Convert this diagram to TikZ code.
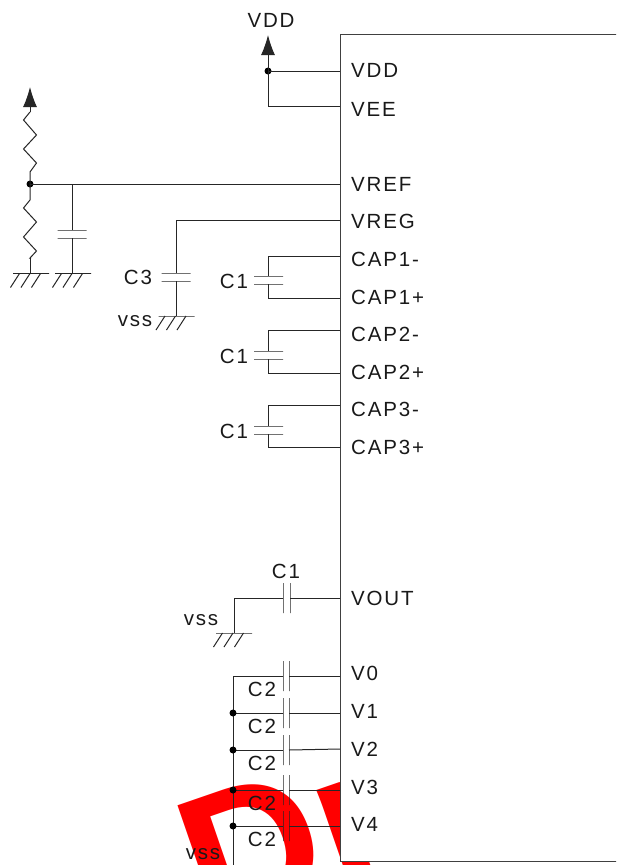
\documentclass[tikz,border=0pt]{standalone}
\usepackage{fontspec}
\setmainfont{Liberation Sans}
\newfontfamily\pinfont[LetterSpace=9]{Liberation Sans}
\usetikzlibrary{arrows.meta}

\begin{document}
\begin{tikzpicture}[x=1pt,y=-1pt]
 \tikzset{
wire/.style = {draw=black!85, line width=1pt},
pinlabel/.style = {anchor=west, inner sep=0pt, font=\pinfont\fontsize{20.5}{24}\selectfont, text=black!90},
partlabel/.style = {inner sep=0pt, font=\pinfont\fontsize{20.5}{24}\selectfont, text=black!90},
chip/.style = {rectangle, draw=black!75, fill=white, line width=1pt, anchor=north west, minimum width=300pt, minimum height=827pt},
hplate/.style = {draw=black!85, line width=1pt, inner sep=0pt, minimum width=29pt, minimum height=0pt},
vplate/.style = {draw=black!85, line width=1pt, inner sep=0pt, minimum width=0pt, minimum height=30pt},
gnd/.style = {draw=black!85, line width=1pt, inner sep=0pt, minimum width=36pt, minimum height=0pt},
dot/.style = {circle, fill=black, inner sep=0pt, minimum size=7pt},
power/.style = {wire, -{Latex[length=20pt,width=14pt]}}}

    \useasboundingbox (0,0) rectangle (616,865);
    \clip (0,0) rectangle (616,865);
    \fill[white] (0,0) rectangle (616,865);

    \node [anchor=base west, inner sep=0pt, rotate=19, text=red, font=\bfseries\fontsize{190}{190}\selectfont] (stamp) at (208,934) {Dr};

    \node [chip] (IC) at (340,34) {};

    % pins
    \node [pinlabel] (VDD) at (351,70) {VDD};
    \node [pinlabel] (VEE) at (351,109) {VEE};
    \node [pinlabel] (VREF) at (351,184) {VREF};
    \node [pinlabel] (VREG) at (351,221) {VREG};
    \node [pinlabel] (CAP1m) at (351,259) {CAP1-};
    \node [pinlabel] (CAP1p) at (351,297) {CAP1+};
    \node [pinlabel] (CAP2m) at (351,334) {CAP2-};
    \node [pinlabel] (CAP2p) at (351,372) {CAP2+};
    \node [pinlabel] (CAP3m) at (351,409) {CAP3-};
    \node [pinlabel] (CAP3p) at (351,447) {CAP3+};
    \node [pinlabel] (VOUT) at (351,598) {VOUT};
    \node [pinlabel] (V0) at (351,673) {V0};
    \node [pinlabel] (V1) at (351,711) {V1};
    \node [pinlabel] (V2) at (351,749) {V2};
    \node [pinlabel] (V3) at (351,787) {V3};
    \node [pinlabel] (V4) at (351,824) {V4};

    \coordinate (pVDD) at (340,71);
    \coordinate (pVEE) at (340,106);
    \coordinate (pVREF) at (340,184);
    \coordinate (pVREG) at (340,220);
    \coordinate (pCAP1m) at (340,256);
    \coordinate (pCAP1p) at (340,298);
    \coordinate (pCAP2m) at (340,330);
    \coordinate (pCAP2p) at (340,373);
    \coordinate (pCAP3m) at (340,405);
    \coordinate (pCAP3p) at (340,447);
    \coordinate (pVOUT) at (340,598);
    \coordinate (pV0) at (340,676);
    \coordinate (pV1) at (340,713);
    \coordinate (pV2) at (340,749);
    \coordinate (pV3) at (340,790);
    \coordinate (pV4) at (340,826);

    % supply
    \node [dot] (N1) at (268,71) {};
    \coordinate (VDDtip) at (268,35);
    \node [partlabel] (VDDtop) at (271,20) {VDD};
    \draw [power] (N1.center) -- (VDDtip);
    \draw [wire] (pVDD) -- (N1.center) -- (pVEE -| N1.center) -- (pVEE);

    % divider
    \node [dot] (N2) at (30,184) {};
    \coordinate (Rtip) at (30,87);
    \coordinate (R1top) at (30,112);
    \coordinate (R2bot) at (30,258);
    \node [gnd] (G1) at (31,273.5) {};
    \node [gnd] (G2) at (73,273.5) {};
    \node [hplate] (Cfa) at (72,230) {};
    \node [hplate] (Cfb) at (72,238) {};
    \draw [power] (R1top) -- (Rtip);
    \draw [wire] (R1top) -- ++(-6.5,8) -- ++(13,15) -- ++(-13,14) -- ++(13,14) -- ++(-6.5,9) -- (N2.center);
    \draw [wire] (N2.center) -- ++(0,16) -- ++(-6.5,8) -- ++(13,14) -- ++(-13,15) -- ++(13,14) -- (R2bot) -- (R2bot -| G1.center);
    \draw [wire] (R2bot) -- (G1.center -| R2bot);
    \draw [wire] (N2.center) -- (pVREF);
    \draw [wire] (Cfa.center |- pVREF) -- (Cfa.center);
    \draw [wire] (Cfb.center) -- (Cfb.center |- G2.center);

    % regulator cap
    \node [hplate] (C3a) at (176,273) {};
    \node [hplate] (C3b) at (176,281) {};
    \node [gnd] (G3) at (176.5,316) {};
    \node [partlabel] (C3) at (138,277) {C3};
    \node [partlabel] (vss1) at (135,321) {vss};
    \draw [wire] (pVREG) -| (C3a.center);
    \draw [wire] (C3b.center) -- (C3b.center |- G3.center);

    % flying caps
    \foreach \n/\ya in {1/276,2/351,3/426}{
      \node [hplate] (C\n a) at (268.5,\ya) {};
      \node [hplate] (C\n b) at (268.5,\ya+8) {};
      \node [partlabel] (L\n) at (234,\ya+5) {C1};
      \draw [wire] (pCAP\n m) -| (C\n a.center);
      \draw [wire] (pCAP\n p) -| (C\n b.center);
    }

    % output cap
    \node [vplate] (COa) at (283,598) {};
    \node [vplate] (COb) at (290,598) {};
    \node [gnd] (G4) at (234,633) {};
    \node [partlabel] (LO) at (286,571) {C1};
    \node [partlabel] (vss2) at (201,620) {vss};
    \draw [wire] (pVOUT) -- (COb.center);
    \draw [wire] (COa.center) -| (G4.center);

    \foreach \g in {G1,G2,G3,G4}
      \foreach \i in {7,17.5,28}
        \draw [wire] ([xshift=\i pt]\g.west) -- ++(-9,14);

    % rail caps
    \coordinate (rail) at (233,865);
    \foreach \n/\y/\ya/\yl in {0/676/676/689,1/713/713/726,2/749/750/763,3/790/790/803,4/826/826/839}{
      \node [vplate] (Pa\n) at (283,\ya) {};
      \node [vplate] (Pb\n) at (289,\ya) {};
      \node [partlabel] (LP\n) at (262,\yl) {C2};
      \draw [wire] (pV\n) -- (Pb\n.center);
      \draw [wire] (Pa\n.center) -- (Pa\n.center -| rail);
    }
    \draw [wire] (Pa0.center -| rail) -- (rail);
    \foreach \n in {1,...,4}
      \node [dot] (R\n) at (Pa\n.center -| rail) {};
    \node [partlabel] (vss3) at (203,854) {vss};

  \end{tikzpicture}
\end{document}
